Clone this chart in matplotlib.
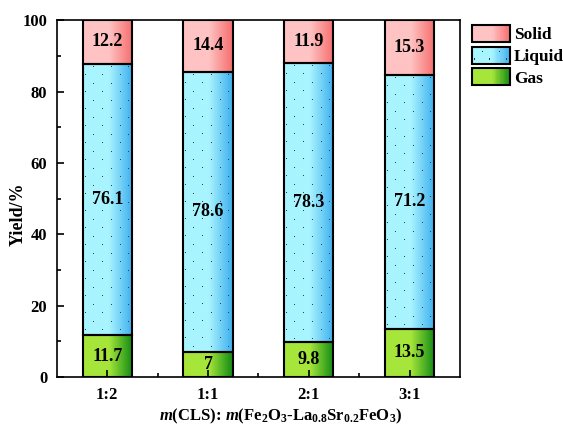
import numpy as np
import matplotlib
matplotlib.use('Agg')
import matplotlib.pyplot as plt
from matplotlib.colors import LinearSegmentedColormap
from matplotlib.patches import Rectangle
from matplotlib.legend_handler import HandlerBase

plt.rcParams["font.family"] = "Liberation Serif"
plt.rcParams["font.weight"] = "bold"
plt.rcParams["mathtext.fontset"] = "custom"
plt.rcParams["mathtext.rm"] = "Liberation Serif:bold"
plt.rcParams["mathtext.it"] = "Liberation Serif:bold:italic"
plt.rcParams["mathtext.bf"] = "Liberation Serif:bold"

categories = ['1:2', '1:1', '2:1', '3:1']
gas = [11.7, 7, 9.8, 13.5]
liquid = [76.1, 78.6, 78.3, 71.2]
solid = [12.2, 14.4, 11.9, 15.3]
gas_lbl = ['11.7', '7', '9.8', '13.5']
liquid_lbl = ['76.1', '78.6', '78.3', '71.2']
solid_lbl = ['12.2', '14.4', '11.9', '15.3']

series = [('Gas', gas, gas_lbl, '#a6e63a', '#0f8a14', False),
          ('Liquid', liquid, liquid_lbl, '#a8f4ff', '#3caeee', True),
          ('Solid', solid, solid_lbl, '#ffc3c3', '#f66c6c', False)]

def make_cmap(light, dark):
    return LinearSegmentedColormap.from_list('g', [(0, light), (0.52, light), (1, dark)])

def dot_texture(w_px, h_px, dx=17, dy=8.5):
    # sparse staggered dots, like the reference fill pattern
    tex = np.zeros((h_px, w_px, 4))
    r = 3
    k = 0
    while r < h_px:
        start = 10 if k % 2 == 0 else 2
        for c in np.arange(start, w_px - 1, dx):
            tex[int(r), int(c)] = (0.25, 0.25, 0.25, 1.0)
        r += dy
        k += 1
    return tex

fig = plt.figure(figsize=(5.63, 4.28), dpi=100)
ax = fig.add_axes([0.101, 0.119, 0.716, 0.834])
ax.set_xlim(0.5, 4.5)
ax.set_ylim(0, 100)

x = np.arange(1, len(categories) + 1)
width = 0.49
px_x = ax.bbox.width / 4.0
px_y = ax.bbox.height / 100.0
grad = np.linspace(0, 1, 256).reshape(1, -1)
bottom = np.zeros(len(categories))
for name, vals, lbls, light, dark, dotted in series:
    cmap = make_cmap(light, dark)
    for i, v in enumerate(vals):
        x0, x1 = x[i] - width / 2, x[i] + width / 2
        ext = (x0, x1, bottom[i], bottom[i] + v)
        ax.imshow(grad, cmap=cmap, extent=ext, aspect='auto',
                  interpolation='bilinear', zorder=1)
        if dotted:
            tex = dot_texture(int(round(width * px_x)), int(round(v * px_y)))
            ax.imshow(tex, extent=ext, aspect='auto', interpolation='nearest',
                      origin='upper', zorder=2)
        ax.bar(x[i], v, width, bottom=bottom[i], facecolor='none',
               edgecolor='black', linewidth=1.5, zorder=3)
        ax.text(x[i], bottom[i] + v / 2, lbls[i], ha='center', va='center',
                fontsize=13, fontweight='bold', zorder=4)
    bottom += np.array(vals)

ax.set_xlim(0.5, 4.5)
ax.set_ylim(0, 100)
ax.set_xticks(x)
ax.set_xticklabels(categories)
ax.set_xticks([1.5, 2.5, 3.5], minor=True)
ax.set_yticks(np.arange(0, 101, 20))
ax.set_yticks(np.arange(10, 100, 20), minor=True)
ax.tick_params(axis='both', which='major', direction='in', length=5, width=1.2,
               labelsize=12, pad=7)
ax.tick_params(axis='both', which='minor', direction='in', length=3, width=1.2)
for s in ax.spines.values():
    s.set_linewidth(1.2)
ax.set_ylabel('Yield/%', fontsize=13, fontweight='bold')
ax.yaxis.set_label_coords(-0.074, 0.455)
ax.set_xlabel('$m$(CLS): $m$(Fe$_2$O$_3$-La$_{0.8}$Sr$_{0.2}$FeO$_3$)',
              fontsize=12, fontweight='bold')
ax.xaxis.set_label_coords(0.556, -0.084)

colors_map = {name: (light, dark, dotted) for name, _, _, light, dark, dotted in series}

class GradHandler(HandlerBase):
    def create_artists(self, legend, orig_handle, xdescent, ydescent,
                       width, height, fontsize, trans):
        light, dark, dotted = colors_map[orig_handle.get_label()]
        cmap = make_cmap(light, dark)
        arts = []
        n = 30
        for k in range(n):
            arts.append(Rectangle((-xdescent + width * k / n, -ydescent), width / n + 0.3, height,
                                  facecolor=cmap((k + 0.5) / n), edgecolor='none',
                                  transform=trans))
        if dotted:
            for fx, fy in [(0.25, 0.7), (0.7, 0.7), (0.05, 0.25), (0.45, 0.25), (0.9, 0.25)]:
                arts.append(Rectangle((-xdescent + width * fx, -ydescent + height * fy), 0.8, 0.8,
                                      facecolor='#333333', edgecolor='none', transform=trans))
        arts.append(Rectangle((-xdescent, -ydescent), width, height, facecolor='none',
                              edgecolor='black', linewidth=1.5, transform=trans))
        return arts

handles = [Rectangle((0, 0), 1, 1, label=n) for n in ['Solid', 'Liquid', 'Gas']]
fig.legend(handles=handles, labels=['Solid', 'Liquid', 'Gas'], loc='upper left',
           bbox_to_anchor=(472 / 563, 1 - 25 / 428), frameon=False, fontsize=12.5,
           handlelength=2.2, handleheight=1.15, handletextpad=0.2, labelspacing=0.18,
           borderpad=0, borderaxespad=0, handler_map={Rectangle: GradHandler()})

fig.savefig('out.png', dpi=100)
